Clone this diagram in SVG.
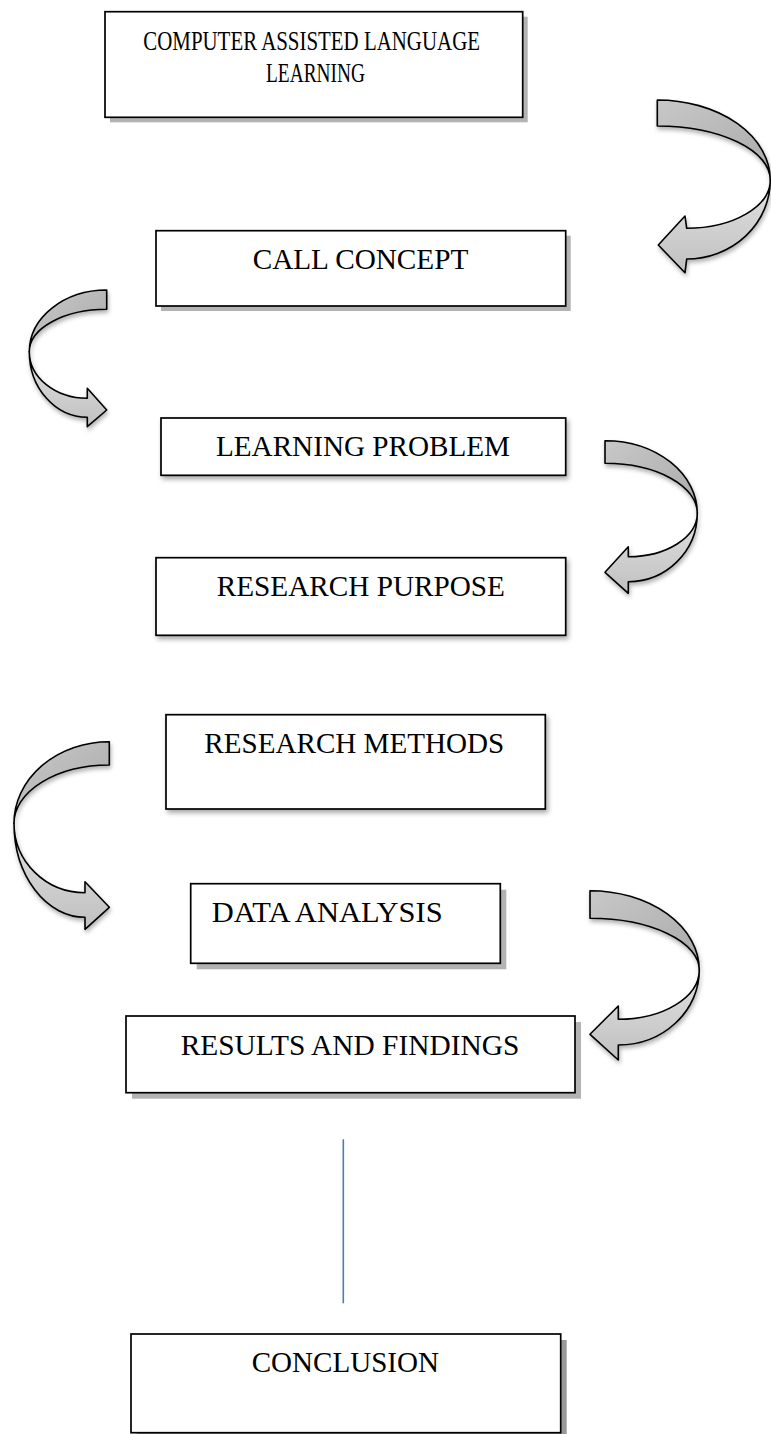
<svg xmlns="http://www.w3.org/2000/svg" width="771" height="1434" viewBox="0 0 771 1434">
<defs>
<style>
.box{fill:#fff;stroke:#000;stroke-width:1.7}
.hs{fill:#b3b3b3}
.t{font-family:"Liberation Serif","Times New Roman",serif;font-size:29px;fill:#000}
.up{fill:url(#gUp);stroke:#000;stroke-width:1.6;stroke-linejoin:round}
.lo{fill:url(#gLo);stroke:#000;stroke-width:1.6;stroke-linejoin:round}
.conn{stroke:#4a7ebb;stroke-width:1.6;fill:none}
</style>
<linearGradient id="gUp" x1="0" y1="0" x2="1" y2="1">
<stop offset="0" stop-color="#c8c8c8"/><stop offset="1" stop-color="#a9a9a9"/>
</linearGradient>
<linearGradient id="gLo" x1="0" y1="0" x2="0" y2="1">
<stop offset="0" stop-color="#e2e2e2"/><stop offset="1" stop-color="#c0c0c0"/>
</linearGradient>
<filter id="soft" x="-10%" y="-20%" width="125%" height="150%">
<feDropShadow dx="2" dy="3" stdDeviation="2.5" flood-color="#000" flood-opacity="0.35"/>
</filter>
<filter id="ash" x="-20%" y="-20%" width="140%" height="140%">
<feDropShadow dx="1" dy="3" stdDeviation="2" flood-color="#000" flood-opacity="0.3"/>
</filter>
</defs>
<rect width="771" height="1434" fill="#fff"/>

<g id="node-call-full">
<rect class="hs" x="110" y="16.7" width="417.7" height="105.6"/>
<rect class="box" x="105" y="11.7" width="417.7" height="105.6"/>
<text class="t" style="font-size:28px" x="143.3" y="50" textLength="336.7" lengthAdjust="spacingAndGlyphs">COMPUTER ASSISTED LANGUAGE</text>
<text class="t" style="font-size:28px" x="266" y="81.7" textLength="99" lengthAdjust="spacingAndGlyphs">LEARNING</text>
</g>

<g id="node-call-concept">
<rect class="hs" x="161" y="235.7" width="409.7" height="75.3"/>
<rect class="box" x="156" y="230.7" width="409.7" height="75.3"/>
<text class="t" x="252.7" y="269.3" textLength="215.6" lengthAdjust="spacingAndGlyphs">CALL CONCEPT</text>
</g>

<g id="node-learning-problem">
<rect class="box" x="161" y="418" width="404.7" height="57.3" filter="url(#soft)"/>
<text class="t" x="216" y="456" textLength="294" lengthAdjust="spacingAndGlyphs">LEARNING PROBLEM</text>
</g>

<g id="node-research-purpose">
<rect class="box" x="156" y="557.7" width="409.7" height="77.6" filter="url(#soft)"/>
<text class="t" x="216.7" y="596" textLength="288.3" lengthAdjust="spacingAndGlyphs">RESEARCH PURPOSE</text>
</g>

<g id="node-research-methods">
<rect class="box" x="166" y="714.7" width="379.3" height="94.3" filter="url(#soft)"/>
<text class="t" x="204.3" y="752.7" textLength="300" lengthAdjust="spacingAndGlyphs">RESEARCH METHODS</text>
</g>

<g id="node-data-analysis">
<rect class="hs" x="196.7" y="889.7" width="309.6" height="79.6" fill="#c2c2c2"/>
<rect class="box" x="190.7" y="883.7" width="309.6" height="79.6"/>
<text class="t" x="211.7" y="921.7" textLength="231" lengthAdjust="spacingAndGlyphs">DATA ANALYSIS</text>
</g>

<g id="node-results">
<rect class="hs" x="132" y="1022" width="449" height="76.7"/>
<rect class="box" x="126" y="1016" width="449" height="76.7"/>
<text class="t" x="180.7" y="1054.5" textLength="338.6" lengthAdjust="spacingAndGlyphs">RESULTS AND FINDINGS</text>
</g>

<g id="node-conclusion">
<rect class="hs" x="137" y="1340" width="429.7" height="98.7" style="fill:#999"/>
<rect class="box" x="131" y="1334" width="429.7" height="98.7"/>
<text class="t" x="251.7" y="1371.7" textLength="187.3" lengthAdjust="spacingAndGlyphs">CONCLUSION</text>
</g>

<g id="connectors">
<g id="arrow-1" filter="url(#ash)">
<path class="up" d="M657.3,100 A113,80 0 0 1 770.3,180 A113,54 0 0 0 657.3,126 Z"/>
<path class="lo" d="M770.3,180 A83.6,48.3 0 0 1 686.7,228.3 L685,216 L658.3,245 L685,272.7 L686.7,259 A83.6,79 0 0 0 770.3,180 Z"/>
</g>
<g id="arrow-2" filter="url(#ash)">
<path class="up" d="M106.7,290 A77.4,61.7 0 0 0 29.3,351.7 A77.4,42.4 0 0 1 106.7,309.3 Z"/>
<path class="lo" d="M29.3,351.7 A58,46.6 0 0 0 87.3,398.3 L87.3,388.3 L106.7,410 L87.3,426.7 L87.3,417.3 A58,65.6 0 0 1 29.3,351.7 Z"/>
</g>
<g id="arrow-3" filter="url(#ash)">
<path class="up" d="M605,440.7 A92.3,72.6 0 0 1 697.3,513.3 A92.3,50 0 0 0 605,463.3 Z"/>
<path class="lo" d="M697.3,513.3 A69,43.4 0 0 1 628.3,556.7 L628.3,546.7 L605,572.3 L628.3,593.3 L628.3,581.7 A69,68.4 0 0 0 697.3,513.3 Z"/>
</g>
<g id="arrow-4" filter="url(#ash)">
<path class="up" d="M109.3,741.7 A95.3,81.6 0 0 0 14,823.3 A95.3,58.3 0 0 1 109.3,765 Z"/>
<path class="lo" d="M14,823.3 A71,69.4 0 0 0 85,892.7 L85,881.7 L109.3,907.3 L85,929.3 L85,917.3 A71,94 0 0 1 14,823.3 Z"/>
</g>
<g id="arrow-5" filter="url(#ash)">
<path class="up" d="M590,890.7 A109.3,79.3 0 0 1 699.3,970 A109.3,51.7 0 0 0 590,918.3 Z"/>
<path class="lo" d="M699.3,970 A81,49.3 0 0 1 618.3,1019.3 L618.3,1006 L590,1034.3 L618.3,1060 L618.3,1045 A81,75 0 0 0 699.3,970 Z"/>
</g>
<line class="conn" x1="343.3" y1="1139.3" x2="343.3" y2="1303.3"/>
</g>
</svg>
